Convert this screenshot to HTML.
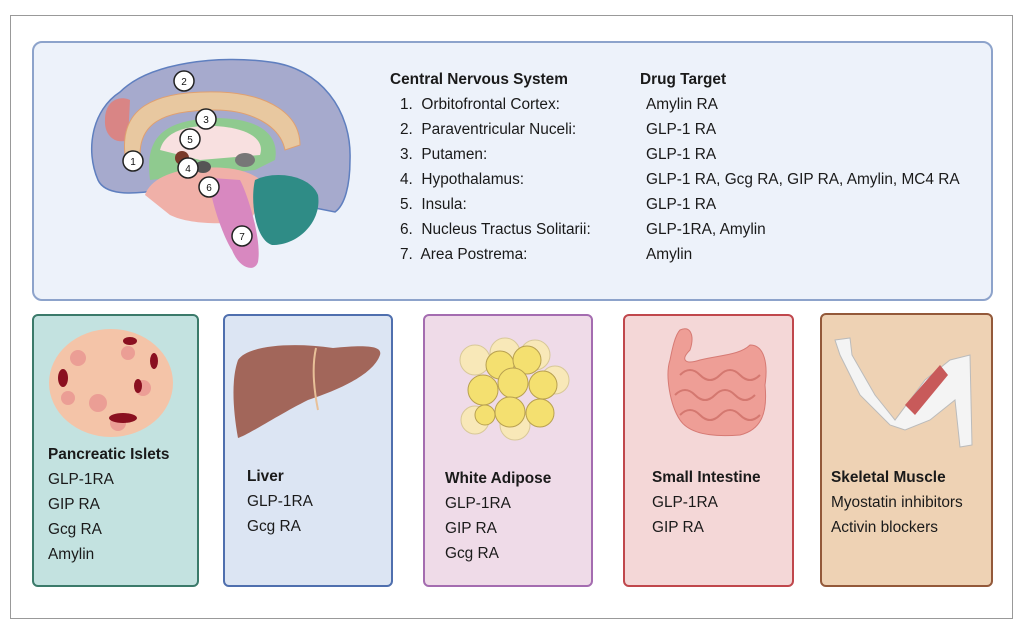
<!DOCTYPE html>
<html><head><meta charset="utf-8"><style>
body{margin:0;background:#fff;width:1024px;height:631px;position:relative;overflow:hidden;font-family:"Liberation Sans",sans-serif;color:#1a1a1a}
.a{position:absolute}
.box{position:absolute;border:2px solid;border-radius:6px;box-sizing:border-box}
.t{position:absolute;font-size:15.4px;line-height:25px;white-space:nowrap}
.b{font-weight:bold}
</style></head><body>
<div class="a" style="left:10px;top:15px;width:1003px;height:604px;border:1px solid #999;box-sizing:border-box"></div>
<div class="box" style="left:32px;top:41px;width:961px;height:260px;background:#edf2fa;border-color:#8da3cb;border-radius:10px"></div>
<svg class="a" style="left:80px;top:50px" width="300" height="230" viewBox="80 50 300 230">
<path d="M98,180 C85,150 92,110 120,92 C150,62 220,55 270,62 C320,68 352,110 350,160 C350,185 345,205 335,212 L300,205 L160,190 C130,195 105,195 98,180 Z" fill="#a6aacd" stroke="#5f7fbf" stroke-width="1.5"/>
<path d="M105,120 C105,100 120,95 130,100 L128,140 C115,145 104,135 105,120Z" fill="#d98585"/>
<path d="M125,155 C120,110 150,90 220,92 C270,94 300,115 300,145 L285,150 C280,125 250,110 215,110 C160,110 140,125 140,155Z" fill="#e8c8a0" stroke="#e0a070"/>
<path d="M150,180 C145,140 160,120 215,118 C260,118 280,135 275,160 L255,170 L200,175 Z" fill="#8fca8f"/>
<path d="M160,150 C165,130 190,125 215,126 C250,128 265,140 260,155 L200,160Z" fill="#f8e0e0"/>
<path d="M145,195 C150,180 170,170 200,168 C240,165 260,175 270,190 L250,220 C230,225 190,225 170,215 Z" fill="#f0b0a8"/>
<path d="M212,178 C205,185 222,235 232,250 C240,270 255,272 258,262 C262,240 248,195 240,180 Z" fill="#d888c0"/>
<path d="M255,180 C275,170 310,175 318,195 C322,220 300,245 272,245 C255,240 250,200 255,180Z" fill="#2f8c86"/>
<ellipse cx="245" cy="160" rx="10" ry="7" fill="#777"/>
<ellipse cx="182" cy="158" rx="7" ry="7" fill="#7a3a2a"/>
<ellipse cx="203" cy="167" rx="8" ry="6" fill="#555"/>
<g fill="#fff" stroke="#222" stroke-width="1.5">
<circle cx="184" cy="81" r="10"/><circle cx="206" cy="119" r="10"/><circle cx="190" cy="139" r="10"/><circle cx="133" cy="161" r="10"/><circle cx="188" cy="168" r="10"/><circle cx="209" cy="187" r="10"/><circle cx="242" cy="236" r="10"/></g>
<g font-size="10" font-family="Liberation Sans" text-anchor="middle" fill="#111">
<text x="184" y="85">2</text><text x="206" y="123">3</text><text x="190" y="143">5</text><text x="133" y="165">1</text><text x="188" y="172">4</text><text x="209" y="191">6</text><text x="242" y="240">7</text></g>
</svg>
<div class="t b" style="left:390px;top:67px">Central Nervous System</div>
<div class="t b" style="left:640px;top:67px">Drug Target</div>
<div class="t" style="left:400px;top:92px">1.&nbsp; Orbitofrontal Cortex:<br>2.&nbsp; Paraventricular Nuceli:<br>3.&nbsp; Putamen:<br>4.&nbsp; Hypothalamus:<br>5.&nbsp; Insula:<br>6.&nbsp; Nucleus Tractus Solitarii:<br>7.&nbsp; Area Postrema:</div>
<div class="t" style="left:646px;top:92px">Amylin RA<br>GLP-1 RA<br>GLP-1 RA<br>GLP-1 RA, Gcg RA, GIP RA, Amylin, MC4 RA<br>GLP-1 RA<br>GLP-1RA, Amylin<br>Amylin</div>

<div class="box" style="left:32px;top:314px;width:167px;height:273px;background:#c3e2e0;border-color:#3b7a6a"></div>
<svg class="a" style="left:48px;top:328px" width="126" height="110"><ellipse cx="63" cy="55" rx="62" ry="54" fill="#f4c4a8"/><g fill="#e88e8e" opacity=".7"><circle cx="30" cy="30" r="8"/><circle cx="80" cy="25" r="7"/><circle cx="95" cy="60" r="8"/><circle cx="50" cy="75" r="9"/><circle cx="20" cy="70" r="7"/><circle cx="70" cy="95" r="8"/></g><g fill="#8a1020"><ellipse cx="82" cy="13" rx="7" ry="4"/><ellipse cx="15" cy="50" rx="5" ry="9"/><ellipse cx="75" cy="90" rx="14" ry="5"/><ellipse cx="106" cy="33" rx="4" ry="8"/><ellipse cx="90" cy="58" rx="4" ry="7"/></g></svg>
<div class="t" style="left:48px;top:442px"><b>Pancreatic Islets</b><br>GLP-1RA<br>GIP RA<br>Gcg RA<br>Amylin</div>

<div class="box" style="left:223px;top:314px;width:170px;height:273px;background:#dce5f3;border-color:#4f6fae"></div>
<svg class="a" style="left:233px;top:340px" width="150" height="100"><path d="M5,20 C15,5 60,2 100,8 C130,5 150,5 147,15 C140,35 105,50 75,60 C45,75 15,95 5,98 C0,70 -2,40 5,20Z" fill="#a2665a"/><path d="M83,8 C78,30 82,55 85,70" stroke="#e8c098" stroke-width="2" fill="none"/></svg>
<div class="t" style="left:247px;top:464px"><b>Liver</b><br>GLP-1RA<br>Gcg RA</div>

<div class="box" style="left:423px;top:314px;width:170px;height:273px;background:#efdbe8;border-color:#a46cb0"></div>
<svg class="a" style="left:455px;top:335px" width="115" height="110"><g fill="#f8e8b8" stroke="#d8c898"><circle cx="20" cy="25" r="15"/><circle cx="50" cy="18" r="15"/><circle cx="80" cy="20" r="15"/><circle cx="100" cy="45" r="14"/><circle cx="20" cy="85" r="14"/><circle cx="60" cy="90" r="15"/></g><g fill="#f4e070" stroke="#b8a050"><circle cx="45" cy="30" r="14"/><circle cx="72" cy="25" r="14"/><circle cx="28" cy="55" r="15"/><circle cx="58" cy="48" r="15"/><circle cx="88" cy="50" r="14"/><circle cx="55" cy="77" r="15"/><circle cx="85" cy="78" r="14"/><circle cx="30" cy="80" r="10"/></g></svg>
<div class="t" style="left:445px;top:466px"><b>White Adipose</b><br>GLP-1RA<br>GIP RA<br>Gcg RA</div>

<div class="box" style="left:623px;top:314px;width:171px;height:273px;background:#f4d7d7;border-color:#c0474c"></div>
<svg class="a" style="left:660px;top:325px" width="110" height="120"><path d="M20,5 C30,0 35,10 30,25 C20,35 25,40 40,35 C60,30 80,30 90,20 C105,20 108,40 105,60 C108,90 100,105 80,110 C55,112 30,110 20,95 C10,80 5,50 10,35 C12,25 15,10 20,5Z" fill="#ee9e96" stroke="#d67a74"/><g stroke="#d47870" fill="none" stroke-width="2"><path d="M20,50 q10,-10 20,0 t20,0 t20,0 t20,0"/><path d="M15,70 q10,-10 20,0 t20,0 t20,0 t20,0"/><path d="M20,90 q10,-10 20,0 t20,0 t20,0 t20,0"/></g></svg>
<div class="t" style="left:652px;top:465px"><b>Small Intestine</b><br>GLP-1RA<br>GIP RA</div>

<div class="box" style="left:820px;top:313px;width:173px;height:274px;background:#eed2b4;border-color:#93593a"></div>
<svg class="a" style="left:830px;top:335px" width="145" height="120"><path d="M5,5 L20,3 L22,20 L45,60 L65,85 L95,45 L120,25 L140,20 L142,110 L130,112 L125,65 L100,85 L75,95 L60,90 L30,60 L10,20 Z" fill="#f4f4f4" stroke="#bbb"/><path d="M75,70 L110,30 L118,40 L85,80Z" fill="#c85a5a"/></svg>
<div class="t" style="left:831px;top:465px"><b>Skeletal Muscle</b><br>Myostatin inhibitors<br>Activin blockers</div>
</body></html>
